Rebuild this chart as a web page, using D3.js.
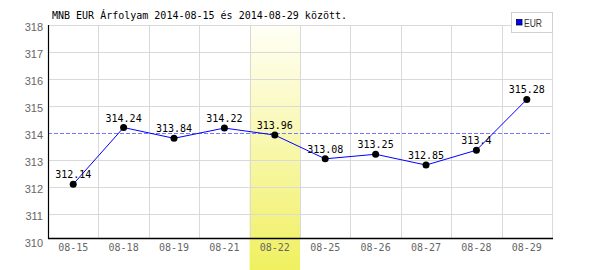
<!DOCTYPE html>
<html>
<head>
<meta charset="utf-8">
<script src="https://cdn.jsdelivr.net/npm/d3@7/dist/d3.min.js"></script>
<style>
  html, body { margin: 0; padding: 0; background: #fff; }
  svg { display: block; }
</style>
</head>
<body>
<svg id="chart" width="600" height="270"></svg>
<script>
const titleText = "MNB EUR Árfolyam 2014-08-15 és 2014-08-29 között.";
const seriesName = "EUR";
const categories = ["08-15","08-18","08-19","08-21","08-22","08-25","08-26","08-27","08-28","08-29"];
const values = [312.14, 314.24, 313.84, 314.22, 313.96, 313.08, 313.25, 312.85, 313.4, 315.28];
const yTicks = [310, 311, 312, 313, 314, 315, 316, 317, 318];
const highlightCategory = "08-22";
const referenceValue = 314;

(function () {
const svg = d3.select("#chart");
const pLeft = 48, pRight = 552, pTop = 26, pBottom = 242;

const x = d3.scaleBand().domain(categories).range([pLeft, pRight]);
const y = d3.scaleLinear().domain([310, 318]).range([pBottom, pTop]);

const defs = svg.append("defs");
const grad = defs.append("linearGradient").attr("id", "hl").attr("x1", 0).attr("y1", 0).attr("x2", 0).attr("y2", 1);
grad.append("stop").attr("offset", "0%").attr("stop-color", "#fffff6");
grad.append("stop").attr("offset", "100%").attr("stop-color", "#f0f060");

// highlight column
svg.append("rect")
  .attr("x", x(highlightCategory))
  .attr("y", y(318))
  .attr("width", x.bandwidth())
  .attr("height", 270 - y(318))
  .attr("fill", "url(#hl)");

// horizontal gridlines (the reference line replaces the one at its value)
svg.append("g").selectAll("line").data(yTicks.filter(t => t > 310 && t !== referenceValue)).join("line")
  .attr("x1", pLeft).attr("x2", pRight)
  .attr("y1", d => Math.round(y(d)) - 0.5).attr("y2", d => Math.round(y(d)) - 0.5)
  .attr("stroke", "#d9d9d9").attr("stroke-width", 1);

// vertical gridlines (band boundaries)
const axisY = Math.round(y(310)) - 4;
svg.append("g").selectAll("line").data(categories).join("line")
  .attr("x1", d => Math.round(x(d) + x.bandwidth()) + 0.5)
  .attr("x2", d => Math.round(x(d) + x.bandwidth()) + 0.5)
  .attr("y1", Math.round(y(318)) - 0.5).attr("y2", axisY)
  .attr("stroke", "#d9d9d9").attr("stroke-width", 1);

// reference dashed line
svg.append("path")
  .attr("d", `M${pLeft},${Math.round(y(referenceValue)) - 0.5}H${pRight}`)
  .attr("fill", "none")
  .attr("stroke", "rgb(120,120,255)").attr("stroke-width", 1.2).attr("stroke-dasharray", "4,2");

// axes frame
svg.append("line").attr("x1", pLeft + 0.5).attr("x2", pLeft + 0.5)
  .attr("y1", Math.round(y(318)) - 1).attr("y2", axisY + 1)
  .attr("stroke", "#000").attr("stroke-width", 1.2);
svg.append("line").attr("x1", pLeft).attr("x2", pRight + 1)
  .attr("y1", axisY + 0.5).attr("y2", axisY + 0.5)
  .attr("stroke", "#000").attr("stroke-width", 1.5);

// y axis labels
const yAxis = svg.append("g").attr("transform", `translate(${pLeft},0)`)
  .call(d3.axisLeft(y).tickValues(yTicks).tickSize(0).tickPadding(5).tickFormat(d3.format("d")));
yAxis.select(".domain").remove();
yAxis.selectAll("text")
  .attr("font-family", "'Liberation Sans', Arial, sans-serif")
  .attr("font-size", 11).attr("fill", "#666").attr("dy", "0.4em");

// x axis labels
const xAxis = svg.append("g").attr("transform", `translate(0,${axisY})`)
  .call(d3.axisBottom(x).tickSize(0).tickPadding(6));
xAxis.select(".domain").remove();
xAxis.selectAll("text")
  .attr("font-family", "'DejaVu Sans Mono', monospace")
  .attr("font-size", 10).attr("fill", "#666");

// line
const pts = categories.map((c, i) => ({c, v: values[i]}));
svg.append("path").datum(pts)
  .attr("fill", "none").attr("stroke", "#0000ff").attr("stroke-width", 1)
  .attr("d", d3.line().x(d => x(d.c) + x.bandwidth() / 2).y(d => y(d.v)));

// points
svg.append("g").selectAll("circle").data(pts).join("circle")
  .attr("cx", d => x(d.c) + x.bandwidth() / 2)
  .attr("cy", d => y(d.v))
  .attr("r", 3.5).attr("fill", "#000");

// value labels
svg.append("g").selectAll("text").data(pts).join("text")
  .attr("x", d => x(d.c) + x.bandwidth() / 2)
  .attr("y", d => y(d.v) - 6)
  .attr("text-anchor", "middle")
  .attr("font-family", "'DejaVu Sans Mono', monospace")
  .attr("font-size", 10).attr("fill", "#000")
  .text(d => String(d.v));

// title
svg.append("text").attr("x", 52).attr("y", 19)
  .attr("font-family", "'DejaVu Sans Mono', monospace")
  .attr("font-size", 10).attr("fill", "#000")
  .text(titleText);

// legend
const lg = svg.append("g");
lg.append("rect").attr("x", 511.5).attr("y", 12.5).attr("width", 41).attr("height", 20)
  .attr("fill", "#fff").attr("stroke", "#d0d0d0");
lg.append("rect").attr("x", 516.5).attr("y", 19.5).attr("width", 5.5).attr("height", 5.5)
  .attr("fill", "#0000ff").attr("stroke", "#000044").attr("stroke-width", 0.8);
lg.append("text").attr("x", 524).attr("y", 26.5)
  .attr("font-family", "'Liberation Sans', Arial, sans-serif")
  .attr("font-size", 10.5).attr("textLength", 18).attr("lengthAdjust", "spacingAndGlyphs")
  .attr("fill", "#333")
  .text(seriesName);
})();
</script>
</body>
</html>
